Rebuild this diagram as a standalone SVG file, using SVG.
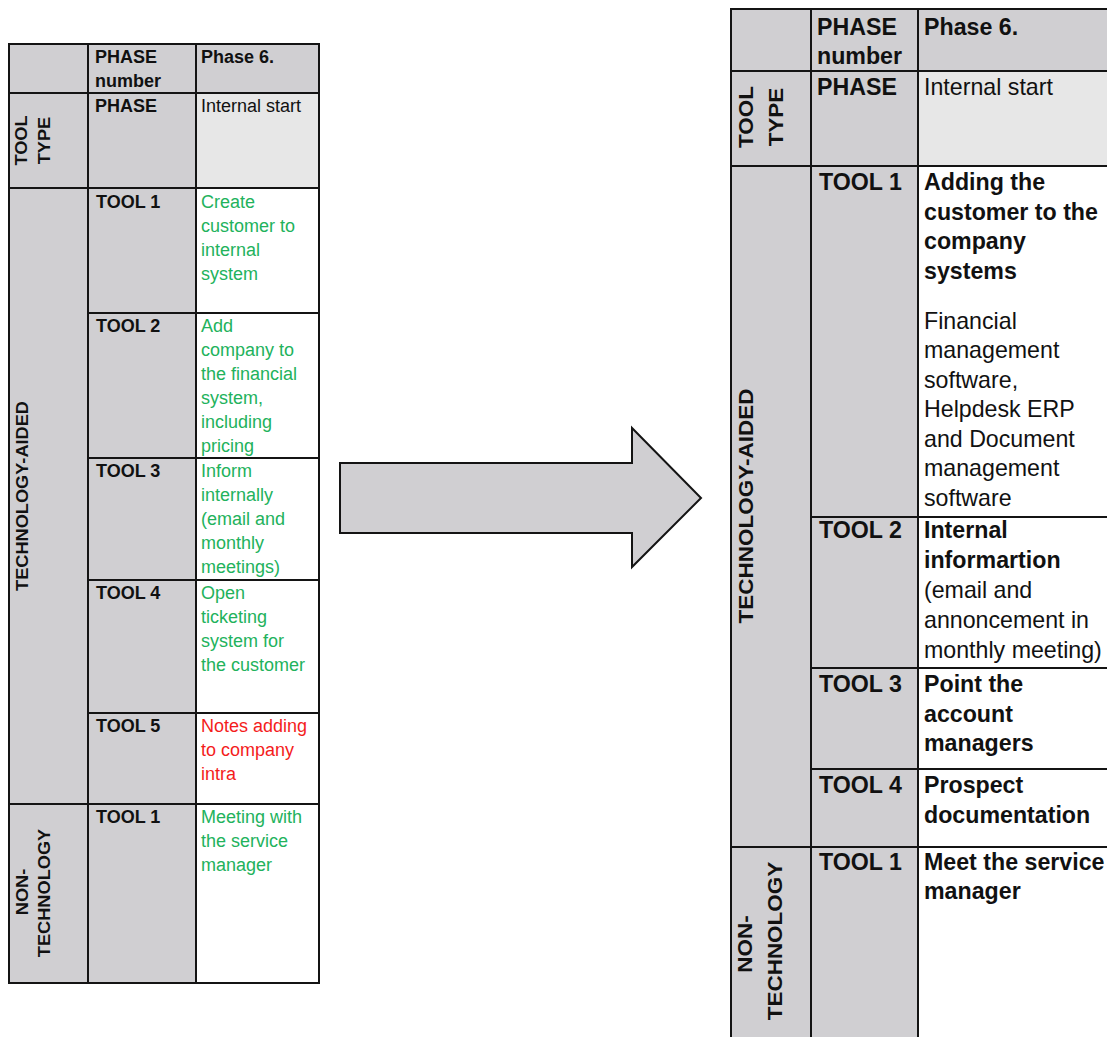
<svg xmlns="http://www.w3.org/2000/svg" width="1107" height="1037" viewBox="0 0 1107 1037">
  <style>
    .bg { fill: #ffffff; }
    .dark { fill: #d0cfd2; }
    .light { fill: #e7e7e7; }
    .white { fill: #ffffff; }
    .rule { stroke: #141414; stroke-width: 2; fill: none; }
    text { font-family: "Liberation Sans", Arial, sans-serif; fill: #111111; }
    .s { font-size: 18px; }
    .l { font-size: 23.2px; }
    .b { font-weight: bold; }
    .green { fill: #22b25c; }
    .red { fill: #f41c1c; }
    .vs { font-size: 18.2px; font-weight: bold; text-anchor: middle; }
    .vl { font-size: 22.5px; font-weight: bold; text-anchor: middle; }
    .arrow { fill: #d0cfd2; stroke: #141414; stroke-width: 2; stroke-linejoin: miter; }
  </style>

  <rect class="bg" x="0" y="0" width="1107" height="1037"/>

  <!-- Phase 6 tool table, first version -->
  <g id="table-before">
    <g id="table-before-fills">
      <rect class="dark" x="9" y="44" width="79" height="939"/>
      <rect class="dark" x="88" y="44" width="108" height="939"/>
      <rect class="dark" x="196" y="44" width="123" height="49"/>
      <rect class="light" x="196" y="93" width="123" height="95"/>
      <rect class="white" x="196" y="188" width="123" height="795"/>
    </g>
    <g id="table-before-rules">
      <rect class="rule" x="9" y="44" width="310" height="939"/>
      <line class="rule" x1="88" y1="44" x2="88" y2="983"/>
      <line class="rule" x1="196" y1="44" x2="196" y2="983"/>
      <line class="rule" x1="9" y1="93" x2="319" y2="93"/>
      <line class="rule" x1="9" y1="188" x2="319" y2="188"/>
      <line class="rule" x1="9" y1="804" x2="319" y2="804"/>
      <line class="rule" x1="88" y1="313" x2="319" y2="313"/>
      <line class="rule" x1="88" y1="458" x2="319" y2="458"/>
      <line class="rule" x1="88" y1="580" x2="319" y2="580"/>
      <line class="rule" x1="88" y1="713" x2="319" y2="713"/>
    </g>
    <g id="before-header">
      <text class="s b" x="95" y="63">PHASE</text>
      <text class="s b" x="95" y="87">number</text>
      <text class="s b" x="201" y="63">Phase 6.</text>
    </g>
    <g id="before-phase">
      <text class="vs" transform="translate(27,140.5) rotate(-90) scale(1,0.9)">TOOL</text>
      <text class="vs" transform="translate(50,140.5) rotate(-90) scale(1,0.9)">TYPE</text>
      <text class="s b" x="95" y="112">PHASE</text>
      <text class="s" x="201" y="112">Internal start</text>
    </g>
    <g id="before-tech">
      <text class="vs" transform="translate(28,496) rotate(-90) scale(1,0.9)">TECHNOLOGY-AIDED</text>
    </g>
    <g id="before-tool1">
      <text class="s b" x="96" y="208">TOOL 1</text>
      <text class="s green" x="201">
        <tspan x="201" y="208">Create</tspan>
        <tspan x="201" y="232">customer to</tspan>
        <tspan x="201" y="256">internal</tspan>
        <tspan x="201" y="280">system</tspan>
      </text>
    </g>
    <g id="before-tool2">
      <text class="s b" x="96" y="332">TOOL 2</text>
      <text class="s green" x="201">
        <tspan x="201" y="332">Add</tspan>
        <tspan x="201" y="356">company to</tspan>
        <tspan x="201" y="380">the financial</tspan>
        <tspan x="201" y="404">system,</tspan>
        <tspan x="201" y="428">including</tspan>
        <tspan x="201" y="452">pricing</tspan>
      </text>
    </g>
    <g id="before-tool3">
      <text class="s b" x="96" y="477">TOOL 3</text>
      <text class="s green" x="201">
        <tspan x="201" y="477">Inform</tspan>
        <tspan x="201" y="501">internally</tspan>
        <tspan x="201" y="525">(email and</tspan>
        <tspan x="201" y="549">monthly</tspan>
        <tspan x="201" y="573">meetings)</tspan>
      </text>
    </g>
    <g id="before-tool4">
      <text class="s b" x="96" y="599">TOOL 4</text>
      <text class="s green" x="201">
        <tspan x="201" y="599">Open</tspan>
        <tspan x="201" y="623">ticketing</tspan>
        <tspan x="201" y="647">system for</tspan>
        <tspan x="201" y="671">the customer</tspan>
      </text>
    </g>
    <g id="before-tool5">
      <text class="s b" x="96" y="732">TOOL 5</text>
      <text class="s red" x="201">
        <tspan x="201" y="732">Notes adding</tspan>
        <tspan x="201" y="756">to company</tspan>
        <tspan x="201" y="780">intra</tspan>
      </text>
    </g>
    <g id="before-nontech">
      <text class="vs" transform="translate(28,892) rotate(-90) scale(1,0.9)">NON-</text>
      <text class="vs" transform="translate(50,893) rotate(-90) scale(1,0.9)">TECHNOLOGY</text>
      <text class="s b" x="96" y="823">TOOL 1</text>
      <text class="s green" x="201">
        <tspan x="201" y="823">Meeting with</tspan>
        <tspan x="201" y="847">the service</tspan>
        <tspan x="201" y="871">manager</tspan>
      </text>
    </g>
  </g>

  <!-- Block arrow between the two tables -->
  <g id="connectors">
    <polygon id="arrow-before-after" class="arrow" points="340,463 632,463 632,428 701,498 632,567 632,533 340,533"/>
  </g>

  <!-- Phase 6 tool table, revised version -->
  <g id="table-after">
    <g id="table-after-fills">
      <rect class="dark" x="731" y="9" width="80" height="1031"/>
      <rect class="dark" x="811" y="9" width="107" height="1031"/>
      <rect class="dark" x="918" y="9" width="192" height="62"/>
      <rect class="light" x="918" y="71" width="192" height="95"/>
      <rect class="white" x="918" y="166" width="192" height="874"/>
    </g>
    <g id="table-after-rules">
      <line class="rule" x1="730" y1="9" x2="1110" y2="9"/>
      <line class="rule" x1="731" y1="9" x2="731" y2="1040"/>
      <line class="rule" x1="811" y1="9" x2="811" y2="1040"/>
      <line class="rule" x1="918" y1="9" x2="918" y2="1040"/>
      <line class="rule" x1="731" y1="71" x2="1110" y2="71"/>
      <line class="rule" x1="731" y1="166" x2="1110" y2="166"/>
      <line class="rule" x1="731" y1="847" x2="1110" y2="847"/>
      <line class="rule" x1="811" y1="517" x2="1110" y2="517"/>
      <line class="rule" x1="811" y1="668" x2="1110" y2="668"/>
      <line class="rule" x1="811" y1="769" x2="1110" y2="769"/>
    </g>
    <g id="after-header">
      <text class="l b" x="817" y="35">PHASE</text>
      <text class="l b" x="817" y="64">number</text>
      <text class="l b" x="924" y="35">Phase 6.</text>
    </g>
    <g id="after-phase">
      <text class="vl" transform="translate(753,117) rotate(-90) scale(1,0.9)">TOOL</text>
      <text class="vl" transform="translate(783,117) rotate(-90) scale(1,0.9)">TYPE</text>
      <text class="l b" x="817" y="95">PHASE</text>
      <text class="l" x="924" y="95">Internal start</text>
    </g>
    <g id="after-tech">
      <text class="vl" transform="translate(753,506) rotate(-90) scale(1,0.9)">TECHNOLOGY-AIDED</text>
    </g>
    <g id="after-tool1">
      <text class="l b" x="819" y="190">TOOL 1</text>
      <text class="l b" x="924">
        <tspan x="924" y="190">Adding the</tspan>
        <tspan x="924" y="219.5">customer to the</tspan>
        <tspan x="924" y="249">company</tspan>
        <tspan x="924" y="278.5">systems</tspan>
      </text>
      <text class="l" x="924">
        <tspan x="924" y="328.5">Financial</tspan>
        <tspan x="924" y="358">management</tspan>
        <tspan x="924" y="387.5">software,</tspan>
        <tspan x="924" y="417">Helpdesk ERP</tspan>
        <tspan x="924" y="446.5">and Document</tspan>
        <tspan x="924" y="476">management</tspan>
        <tspan x="924" y="505.5">software</tspan>
      </text>
    </g>
    <g id="after-tool2">
      <text class="l b" x="819" y="538">TOOL 2</text>
      <text class="l b" x="924">
        <tspan x="924" y="538">Internal</tspan>
        <tspan x="924" y="568">informartion</tspan>
      </text>
      <text class="l" x="924">
        <tspan x="924" y="598">(email and</tspan>
        <tspan x="924" y="628">annoncement in</tspan>
        <tspan x="924" y="658">monthly meeting)</tspan>
      </text>
    </g>
    <g id="after-tool3">
      <text class="l b" x="819" y="692">TOOL 3</text>
      <text class="l b" x="924">
        <tspan x="924" y="692">Point the</tspan>
        <tspan x="924" y="721.5">account</tspan>
        <tspan x="924" y="751">managers</tspan>
      </text>
    </g>
    <g id="after-tool4">
      <text class="l b" x="819" y="793">TOOL 4</text>
      <text class="l b" x="924">
        <tspan x="924" y="793">Prospect</tspan>
        <tspan x="924" y="823">documentation</tspan>
      </text>
    </g>
    <g id="after-nontech">
      <text class="vl" transform="translate(752,944) rotate(-90) scale(1,0.9)">NON-</text>
      <text class="vl" transform="translate(782,941) rotate(-90) scale(1,0.9)">TECHNOLOGY</text>
      <text class="l b" x="819" y="870">TOOL 1</text>
      <text class="l b" x="924">
        <tspan x="924" y="870">Meet the service</tspan>
        <tspan x="924" y="899">manager</tspan>
      </text>
    </g>
  </g>
</svg>
